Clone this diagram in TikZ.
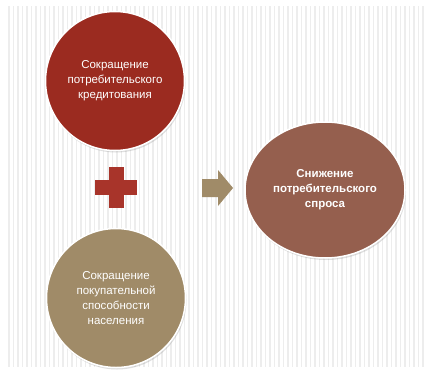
\documentclass[tikz,border=0pt]{standalone}
\usepackage{fontspec}
\setmainfont{Liberation Sans}
\usetikzlibrary{shapes.geometric,shadows}
\definecolor{cred}{HTML}{9B2B20}
\definecolor{ctan}{HTML}{A08B68}
\definecolor{cbrown}{HTML}{955F4E}
\definecolor{cplus}{HTML}{A8342A}
\definecolor{cstripe}{HTML}{EDEDED}
\tikzset{
  bubble/.style={circle, minimum size=139pt, inner sep=0pt, draw=white, line width=1.5pt,
    text=white, align=center, font=\fontsize{11.5}{15}\selectfont,
    drop shadow={shadow xshift=1pt, shadow yshift=-2pt, opacity=0.25}},
  oval/.style={ellipse, minimum width=160pt, minimum height=136pt, inner sep=0pt, draw=white, line width=1.5pt,
    text=white, align=center, font=\fontsize{11.5}{15}\selectfont\bfseries,
    drop shadow={shadow xshift=1pt, shadow yshift=-2pt, opacity=0.25}},
}
\begin{document}
\begin{tikzpicture}[x=1pt,y=-1pt]
\useasboundingbox (0,0) rectangle (425,372);
\fill[white] (0,0) rectangle (425,372);
\foreach \i in {0,...,92} {
  \fill[cstripe] (8+\i*4.5,6) rectangle (9.6+\i*4.5,367);
}
\node[bubble, fill=cred] (top) at (115,81) {Сокращение\\потребительского\\кредитования};
\node[bubble, fill=ctan] (bot) at (116,298) {Сокращение\\покупательной\\способности\\населения};
\node[oval, fill=cbrown] (res) at (325,190) {Снижение\\потребительского\\спроса};
% plus
\fill[cplus] (95,180) rectangle (137,195);
\fill[cplus] (108.5,167) rectangle (123.5,208);
% arrow
\fill[ctan] (202,179) -- (218,179) -- (218,170) -- (233,188) -- (218,206) -- (218,197) -- (202,197) -- cycle;
\end{tikzpicture}
\end{document}
